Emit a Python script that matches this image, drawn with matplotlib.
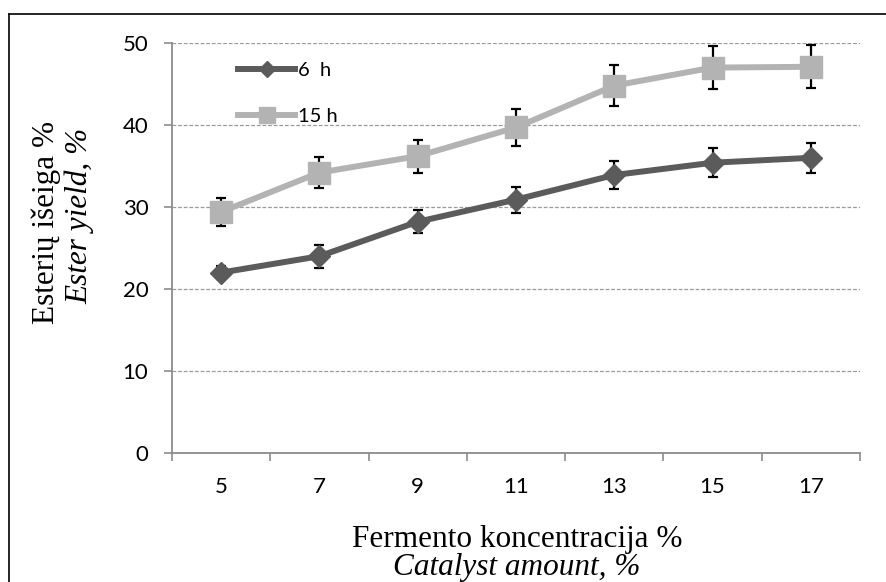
import matplotlib
matplotlib.use("Agg")
import matplotlib.pyplot as plt
from matplotlib.lines import Line2D
import numpy as np

categories = ["5", "7", "9", "11", "13", "15", "17"]
yield_6h = [22.0, 24.0, 28.2, 30.9, 33.9, 35.4, 36.0]
err_6h = [0.8, 1.4, 1.4, 1.6, 1.7, 1.8, 1.8]
yield_15h = [29.4, 34.2, 36.2, 39.7, 44.8, 47.0, 47.1]
err_15h = [1.7, 1.9, 2.0, 2.2, 2.5, 2.6, 2.6]
yticks = [0, 10, 20, 30, 40, 50]

W, H = 886, 582
fig = plt.figure(figsize=(W / 100, H / 100), dpi=100)
ax = fig.add_axes([172 / W, 1 - 453 / H, (860 - 172) / W, (453 - 43) / H])

x = np.arange(len(categories))
c6 = "#5b5b5b"
c15 = "#b3b3b3"

ax.errorbar(x, yield_15h, yerr=err_15h, fmt="none", ecolor="black", elinewidth=1.6,
            capsize=3.8, capthick=1.6, zorder=3)
ax.errorbar(x, yield_6h, yerr=err_6h, fmt="none", ecolor="black", elinewidth=1.6,
            capsize=3.8, capthick=1.6, zorder=3)
ax.plot(x, yield_15h, color=c15, lw=4.3, marker="s", ms=16, mec=c15, mfc=c15,
        label="15 h", zorder=4)
ax.plot(x, yield_6h, color=c6, lw=4.3, marker="D", ms=11.5, mec=c6, mfc=c6,
        label="6  h", zorder=5)

ax.set_xlim(-0.5, len(categories) - 0.5)
ax.set_ylim(0, 50)
ax.set_yticks(yticks)
ax.set_yticklabels([str(v) for v in yticks], family="Lato", fontsize=16)
ax.set_xticks(np.arange(len(categories) + 1) - 0.5)
ax.set_xticklabels([])
ax.set_xticks(x, minor=True)
ax.set_xticklabels(categories, minor=True, family="Lato", fontsize=16)
ax.tick_params(axis="x", which="major", length=6, width=1.2, color="#8c8c8c", direction="out")
ax.tick_params(axis="x", which="minor", length=0, pad=17.5)
ax.tick_params(axis="y", length=6, width=1.2, color="#8c8c8c", direction="out", pad=11)

ax.grid(axis="y", linestyle=(0, (3, 1.5)), color="#9a9a9a", lw=0.9, zorder=0)
ax.set_axisbelow(True)
for s in ["top", "right"]:
    ax.spines[s].set_visible(False)
for s in ["left", "bottom"]:
    ax.spines[s].set_color("#8c8c8c")
    ax.spines[s].set_linewidth(1.3)

handles, labels = ax.get_legend_handles_labels()
leg = ax.legend(handles[::-1], labels[::-1], loc="upper left", bbox_to_anchor=(0.070, 0.999),
                frameon=False, handlelength=2.83, handletextpad=0.12, labelspacing=1.45,
                numpoints=1, prop={"family": "Lato", "size": 14.5}, markerscale=0.7)

serif = "Liberation Serif"
fig.text(46 / W, 1 - 222 / H, "Esterių išeiga %", rotation=90, ha="center", va="center",
         family=serif, fontsize=22.5)
fig.text(80 / W, 1 - 216 / H, "Ester yield, %", rotation=90, ha="center", va="center",
         family=serif, fontsize=22.5, style="italic")
fig.text(517 / W, 1 - 539 / H, "Fermento koncentracija %", ha="center", va="center",
         family=serif, fontsize=22.5)
fig.text(517 / W, 1 - 568 / H, "Catalyst amount, %", ha="center", va="center",
         family=serif, fontsize=22.5, style="italic")

# outer frame of the figure
fig.add_artist(Line2D([8.5 / W, 8.5 / W], [0, 1 - 13.5 / H], transform=fig.transFigure,
                      color="black", lw=1.2))
fig.add_artist(Line2D([8.5 / W, 1], [1 - 13.5 / H, 1 - 13.5 / H], transform=fig.transFigure,
                      color="black", lw=1.2))

fig.savefig("out.png", dpi=100)
